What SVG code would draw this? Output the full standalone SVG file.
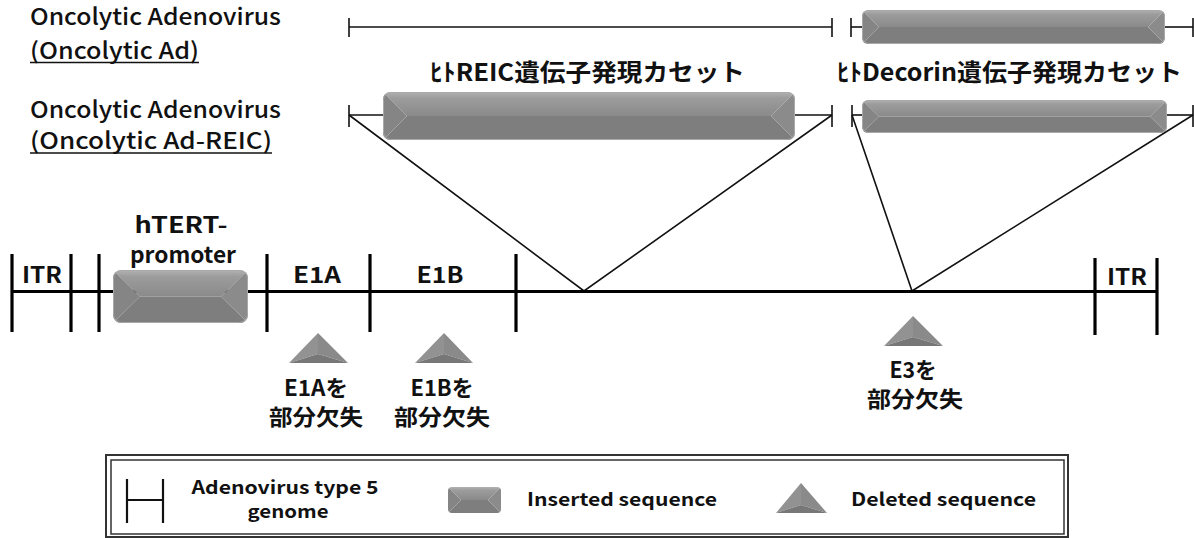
<svg xmlns="http://www.w3.org/2000/svg" width="1194" height="538" viewBox="0 0 1194 538">
<style>
text{font-family:'Noto Sans CJK JP','Noto Sans',sans-serif;fill:#111}
.lt{font-size:23px;font-weight:500}
.ttl{font-size:24px;font-weight:700}
.lab{font-size:22px;font-weight:700}
.leg{font-size:18px;font-weight:700}
.thin{stroke:#111;stroke-width:1.6;fill:none}
.thick{stroke:#000;stroke-width:3.2;fill:none}
.ul{stroke:#111;stroke-width:1.5}
.top{fill:url(#topG)}
.bot{fill:#7e7e7e}
.lf{fill:#858585}
.rf{fill:#8b8b8b}
.rim{fill:none;stroke:#a9a9a9;stroke-width:1}
.t1{fill:#929292}.t2{fill:#8a8a8a}.t3{fill:#777}
</style>
<defs>
<linearGradient id="topG" x1="0" y1="0" x2="0" y2="1">
<stop offset="0" stop-color="#b2b2b2"/>
<stop offset="0.25" stop-color="#9c9c9c"/>
<stop offset="1" stop-color="#8a8a8a"/>
</linearGradient>
<clipPath id="c1"><rect x="862" y="10" width="303" height="34" rx="6"/></clipPath>
<clipPath id="c2"><rect x="383" y="92" width="412" height="48" rx="7"/></clipPath>
<clipPath id="c3"><rect x="862" y="100" width="305" height="33" rx="6"/></clipPath>
<clipPath id="c4"><rect x="113" y="270" width="135" height="53" rx="8"/></clipPath>
<clipPath id="c5"><rect x="448" y="487" width="53" height="26" rx="4"/></clipPath>
</defs>

<g id="labels-left">
<text class="lt" x="30" y="25" textLength="251" lengthAdjust="spacingAndGlyphs">Oncolytic Adenovirus</text>
<text class="lt" x="30" y="59" textLength="169" lengthAdjust="spacingAndGlyphs">(Oncolytic Ad)</text>
<line class="ul" x1="30" y1="62.5" x2="199" y2="62.5"/>
<text class="lt" x="30" y="118" textLength="251" lengthAdjust="spacingAndGlyphs">Oncolytic Adenovirus</text>
<text class="lt" x="30" y="149" textLength="242" lengthAdjust="spacingAndGlyphs">(Oncolytic Ad-REIC)</text>
<line class="ul" x1="30" y1="153" x2="272" y2="153"/>
</g>

<g id="connectors">
<line class="thin" x1="349" y1="27" x2="832" y2="27"/>
<line class="thin" x1="349" y1="18" x2="349" y2="37"/>
<line class="thin" x1="832" y1="18" x2="832" y2="37"/>
<line class="thin" x1="851" y1="27" x2="864" y2="27"/>
<line class="thin" x1="851" y1="18" x2="851" y2="37"/>
<line class="thin" x1="1163" y1="27" x2="1193" y2="27"/>
<line class="thin" x1="1193" y1="18" x2="1193" y2="37"/>
<line class="thin" x1="349" y1="115" x2="385" y2="115"/>
<line class="thin" x1="793" y1="115" x2="832" y2="115"/>
<line class="thin" x1="349" y1="105" x2="349" y2="127"/>
<line class="thin" x1="832" y1="105" x2="832" y2="127"/>
<line class="thin" x1="852" y1="115" x2="864" y2="115"/>
<line class="thin" x1="852" y1="105" x2="852" y2="127"/>
<line class="thin" x1="1165" y1="115" x2="1193" y2="115"/>
<line class="thin" x1="1193" y1="105" x2="1193" y2="127"/>
<polyline class="thin" points="349,115 584,291 832,115"/>
<polyline class="thin" points="852,115 912,291 1193,115"/>
<line class="thick" x1="12" y1="291.5" x2="1157" y2="291.5"/>
<line class="thick" x1="12" y1="254" x2="12" y2="332"/>
<line class="thick" x1="71" y1="254" x2="71" y2="332"/>
<line class="thick" x1="99" y1="254" x2="99" y2="332"/>
<line class="thick" x1="267" y1="254" x2="267" y2="332"/>
<line class="thick" x1="370" y1="254" x2="370" y2="332"/>
<line class="thick" x1="516" y1="254" x2="516" y2="332"/>
<line class="thick" x1="1095" y1="258" x2="1095" y2="335"/>
<line class="thick" x1="1157" y1="258" x2="1157" y2="335"/>
</g>

<g id="title-reic"><text class="ttl" x="430" y="81" textLength="315" lengthAdjust="spacingAndGlyphs">ﾋﾄREIC遺伝子発現カセット</text></g>
<g id="title-decorin"><text class="ttl" x="837" y="81" textLength="345" lengthAdjust="spacingAndGlyphs">ﾋﾄDecorin遺伝子発現カセット</text></g>

<g id="bar-decorin-top" clip-path="url(#c1)">
<polygon class="top" points="862,10 1165,10 1148,27 879,27"/>
<polygon class="bot" points="862,44 1165,44 1148,27 879,27"/>
<polygon class="lf" points="862,10 879,27 862,44"/>
<polygon class="rf" points="1165,10 1148,27 1165,44"/>
<rect class="rim" x="862.5" y="10.5" width="302" height="33" rx="6"/>
</g>
<g id="bar-reic" clip-path="url(#c2)">
<polygon class="top" points="383,92 795,92 771,116 407,116"/>
<polygon class="bot" points="383,140 795,140 771,116 407,116"/>
<polygon class="lf" points="383,92 407,116 383,140"/>
<polygon class="rf" points="795,92 771,116 795,140"/>
<rect class="rim" x="383.5" y="92.5" width="411" height="47" rx="7"/>
</g>
<g id="bar-decorin" clip-path="url(#c3)">
<polygon class="top" points="862,100 1167,100 1150,116.5 879,116.5"/>
<polygon class="bot" points="862,133 1167,133 1150,116.5 879,116.5"/>
<polygon class="lf" points="862,100 879,116.5 862,133"/>
<polygon class="rf" points="1167,100 1150,116.5 1167,133"/>
<rect class="rim" x="862.5" y="100.5" width="304" height="32" rx="6"/>
</g>

<g id="htert">
<text class="lab" x="181" y="233" text-anchor="middle" textLength="93" lengthAdjust="spacingAndGlyphs">hTERT-</text>
<text class="lab" x="183" y="263" text-anchor="middle" textLength="106" lengthAdjust="spacingAndGlyphs">promoter</text>
<g clip-path="url(#c4)">
<polygon class="top" points="113,270 248,270 221,296.5 140,296.5"/>
<polygon class="bot" points="113,323 248,323 221,296.5 140,296.5"/>
<polygon class="lf" points="113,270 140,296.5 113,323"/>
<polygon class="rf" points="248,270 221,296.5 248,323"/>
<rect class="rim" x="113.5" y="270.5" width="134" height="52" rx="8"/>
</g>
</g>

<g id="itr-left"><text class="lab" x="42" y="283" text-anchor="middle" textLength="40" lengthAdjust="spacingAndGlyphs">ITR</text></g>
<g id="e1a"><text class="lab" x="317" y="283" text-anchor="middle" textLength="48" lengthAdjust="spacingAndGlyphs">E1A</text></g>
<g id="e1b"><text class="lab" x="440" y="283" text-anchor="middle" textLength="47" lengthAdjust="spacingAndGlyphs">E1B</text></g>
<g id="itr-right"><text class="lab" x="1127" y="285" text-anchor="middle" textLength="40" lengthAdjust="spacingAndGlyphs">ITR</text></g>

<g id="del-e1a">
<polygon class="t1" points="318,333 289,363 318,354"/>
<polygon class="t2" points="318,333 348,363 318,354"/>
<polygon class="t3" points="289,363 348,363 318,354"/>
<text class="lab" x="316" y="396" text-anchor="middle" textLength="64" lengthAdjust="spacingAndGlyphs">E1Aを</text>
<text class="lab" x="316" y="425" text-anchor="middle" textLength="94" lengthAdjust="spacingAndGlyphs">部分欠失</text>
</g>
<g id="del-e1b">
<polygon class="t1" points="444,333 415,363 444,354"/>
<polygon class="t2" points="444,333 473,363 444,354"/>
<polygon class="t3" points="415,363 473,363 444,354"/>
<text class="lab" x="442" y="396" text-anchor="middle" textLength="63" lengthAdjust="spacingAndGlyphs">E1Bを</text>
<text class="lab" x="442" y="425" text-anchor="middle" textLength="96" lengthAdjust="spacingAndGlyphs">部分欠失</text>
</g>
<g id="del-e3">
<polygon class="t1" points="913,316 884,346 913,337"/>
<polygon class="t2" points="913,316 943,346 913,337"/>
<polygon class="t3" points="884,346 943,346 913,337"/>
<text class="lab" x="913" y="378" text-anchor="middle" textLength="47" lengthAdjust="spacingAndGlyphs">E3を</text>
<text class="lab" x="915" y="407" text-anchor="middle" textLength="96" lengthAdjust="spacingAndGlyphs">部分欠失</text>
</g>

<g id="legend">
<rect x="106" y="455" width="962" height="82" fill="none" stroke="#333" stroke-width="2"/>
<rect x="111" y="460" width="953" height="74" fill="none" stroke="#333" stroke-width="1.5"/>
<line x1="127" y1="479" x2="127" y2="523" stroke="#111" stroke-width="2.2"/>
<line x1="163" y1="479" x2="163" y2="523" stroke="#111" stroke-width="2.2"/>
<line x1="127" y1="500" x2="163" y2="500" stroke="#111" stroke-width="2.2"/>
<text class="leg" x="285" y="494" text-anchor="middle" textLength="187" lengthAdjust="spacingAndGlyphs">Adenovirus type 5</text>
<text class="leg" x="288" y="518" text-anchor="middle" textLength="81" lengthAdjust="spacingAndGlyphs">genome</text>
<g clip-path="url(#c5)">
<polygon class="top" points="448,487 501,487 488,500 461,500"/>
<polygon class="bot" points="448,513 501,513 488,500 461,500"/>
<polygon class="lf" points="448,487 461,500 448,513"/>
<polygon class="rf" points="501,487 488,500 501,513"/>
</g>
<text class="leg" x="527" y="506" textLength="190" lengthAdjust="spacingAndGlyphs">Inserted sequence</text>
<polygon class="t1" points="801,483 776,513 801,505"/>
<polygon class="t2" points="801,483 827,513 801,505"/>
<polygon class="t3" points="776,513 827,513 801,505"/>
<text class="leg" x="851" y="506" textLength="185" lengthAdjust="spacingAndGlyphs">Deleted sequence</text>
</g>
</svg>
